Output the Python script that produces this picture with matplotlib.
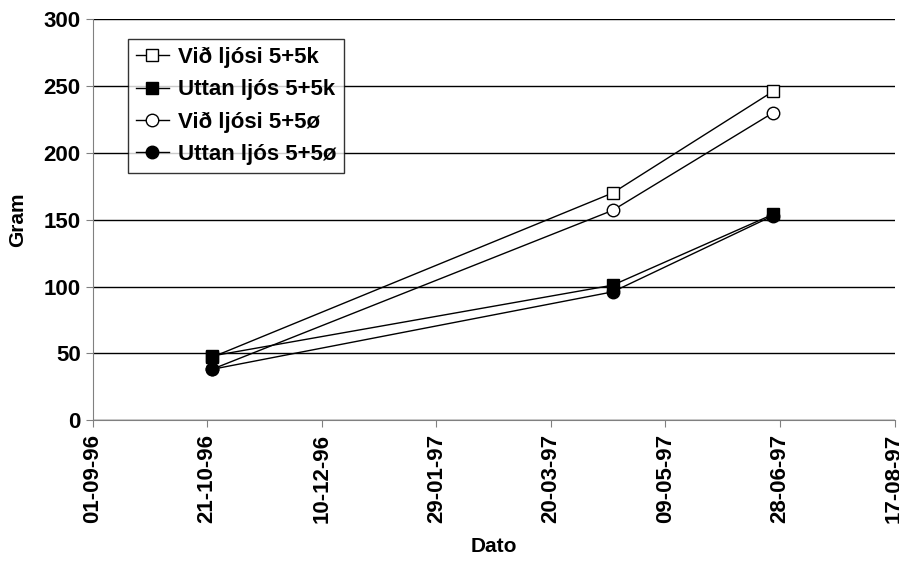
import matplotlib
matplotlib.use("Agg")
import matplotlib.pyplot as plt
import matplotlib.dates as mdates
import pandas as pd

# Data
dates = pd.to_datetime(["1996-10-23", "1997-04-16", "1997-06-25"])
vid_k = [47, 170, 246]
uttan_k = [48, 101, 154]
vid_o = [38, 157, 230]
uttan_o = [38, 96, 153]
labels = ["Við ljósi 5+5k", "Uttan ljós 5+5k", "Við ljósi 5+5ø", "Uttan ljós 5+5ø"]

plt.rcParams["font.family"] = ["Liberation Sans", "DejaVu Sans"]
plt.rcParams["font.weight"] = "bold"

fig, ax = plt.subplots(figsize=(8.99, 5.64), dpi=100)
fig.subplots_adjust(left=0.103, right=0.995, top=0.966, bottom=0.255)

series = [
    (vid_k, "s", "white"),
    (uttan_k, "s", "black"),
    (vid_o, "o", "white"),
    (uttan_o, "o", "black"),
]
for (vals, m, fc), lab in zip(series, labels):
    ax.plot(dates, vals, color="black", lw=1, marker=m, markersize=9,
            markerfacecolor=fc, markeredgecolor="black", markeredgewidth=1,
            label=lab)

start = pd.Timestamp("1996-09-01")
ticks = [start + pd.Timedelta(days=50 * i) for i in range(8)]
ax.set_xlim(ticks[0], ticks[-1])
ax.set_xticks(ticks)
ax.xaxis.set_major_formatter(mdates.DateFormatter("%d-%m-%y"))
plt.setp(ax.get_xticklabels(), rotation=90)

ax.set_ylim(0, 300)
ax.set_yticks(range(0, 301, 50))
ax.yaxis.grid(True, color="black", lw=1)
ax.set_axisbelow(True)

for s in ["top", "right"]:
    ax.spines[s].set_visible(False)
for s in ["left", "bottom"]:
    ax.spines[s].set_color("#808080")
ax.tick_params(axis="both", labelsize=16, color="#808080", length=5)
ax.tick_params(axis="x", pad=5)

ax.set_xlabel("Dato", fontsize=15, fontweight="bold", labelpad=10)
ax.set_ylabel("Gram", fontsize=15, fontweight="bold", labelpad=12)

leg = ax.legend(loc="upper left", bbox_to_anchor=(0.044, 0.95), fontsize=16,
                frameon=True, fancybox=False, edgecolor="black",
                handlelength=1.5, handletextpad=0.4, borderpad=0.35,
                labelspacing=0.5, borderaxespad=0)
leg.get_frame().set_linewidth(1)

fig.savefig("out.png", dpi=100)
